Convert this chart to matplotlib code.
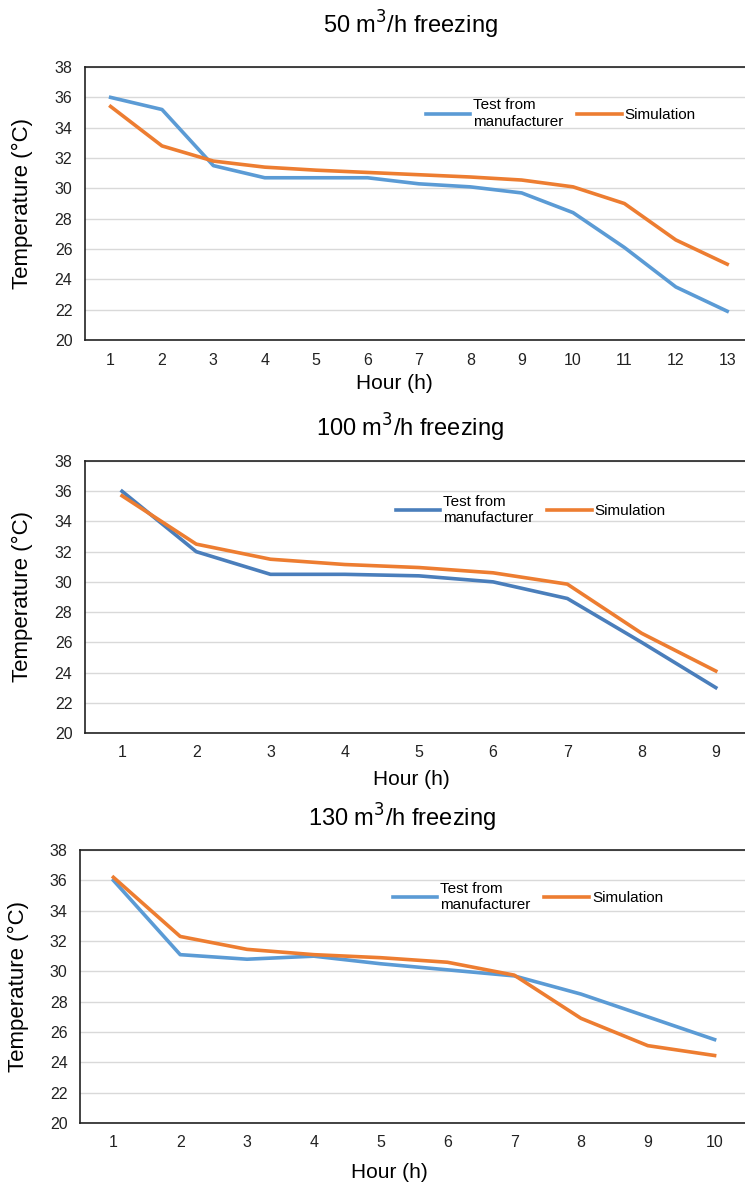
import matplotlib
matplotlib.use("Agg")
import matplotlib.pyplot as plt

# hours on the category axis
hours_50 = list(range(1, 14))
hours_100 = list(range(1, 10))
hours_130 = list(range(1, 11))

# 50 m3/h
test_50 = [36.0, 35.2, 31.5, 30.7, 30.7, 30.7, 30.3, 30.1, 29.7, 28.4, 26.1, 23.5, 21.9]
sim_50 = [35.4, 32.8, 31.8, 31.4, 31.2, 31.05, 30.9, 30.75, 30.55, 30.1, 29.0, 26.6, 25.0]

# 100 m3/h
test_100 = [36.0, 32.0, 30.5, 30.5, 30.4, 30.0, 28.9, 26.0, 23.0]
sim_100 = [35.7, 32.5, 31.5, 31.15, 30.95, 30.6, 29.85, 26.6, 24.1]

# 130 m3/h
test_130 = [36.0, 31.1, 30.8, 31.0, 30.5, 30.1, 29.7, 28.5, 27.0, 25.5]
sim_130 = [36.2, 32.3, 31.45, 31.1, 30.9, 30.6, 29.75, 26.9, 25.1, 24.45]

titles = ["50 m$^3$/h freezing", "100 m$^3$/h freezing", "130 m$^3$/h freezing"]
labels = ["Test from\nmanufacturer", "Simulation"]
yticks = list(range(20, 39, 2))

font = ["Liberation Sans", "DejaVu Sans"]

fig = plt.figure(figsize=(7.45, 11.91), dpi=100)

panels = [
    # x, y test, y sim, axes rect, blue colour, title (x, y px), xlabel coords, legend anchor
    (hours_50, test_50, sim_50, [0.114, 0.7145, 0.8966, 0.2292], "#5B9BD5", (410, 25), (0.464, -0.125), (0.49, 0.83)),
    (hours_100, test_100, sim_100, [0.114, 0.3846, 0.8966, 0.2283], "#4A7EBB", (410, 428), (0.488, -0.135), (0.445, 0.82)),
    (hours_130, test_130, sim_130, [0.1074, 0.0571, 0.8966, 0.2292], "#5B9BD5", (402, 818), (0.463, -0.147), (0.448, 0.828)),
]

for i, (x, yt, ys, rect, blue, tpos, xlc, leg) in enumerate(panels):
    ax = fig.add_axes(rect)
    ax.plot(x, yt, color=blue, lw=2.6, label=labels[0], solid_joinstyle="round")
    ax.plot(x, ys, color="#ED7D31", lw=2.6, label=labels[1], solid_joinstyle="round")
    ax.set_xlim(0.5, len(x) + 0.5)
    ax.set_ylim(20, 38)
    ax.set_xticks(x)
    ax.set_yticks(yticks)
    ax.grid(axis="y", color="#D9D9D9", lw=1)
    ax.set_axisbelow(True)
    for s in ax.spines.values():
        s.set_color("#222222")
        s.set_linewidth(1.2)
    ax.tick_params(length=0, labelsize=11.5, pad=9, colors="#222222")
    for t in ax.get_xticklabels() + ax.get_yticklabels():
        t.set_family(font)
    ax.set_ylabel("Temperature (°C)", family=font, fontsize=16)
    ax.yaxis.set_label_coords(-0.077, 0.5)
    ax.set_xlabel("Hour (h)", family=font, fontsize=15)
    ax.xaxis.set_label_coords(*xlc)
    ax.legend(loc="center left", bbox_to_anchor=leg, ncol=2, frameon=False,
              prop={"family": font, "size": 11}, handlelength=2.9,
              handletextpad=0.2, columnspacing=0.9, labelspacing=0.1)
    fig.text(tpos[0] / 745, 1 - tpos[1] / 1191, titles[i], ha="center", va="center",
             family=font, fontsize=17)

fig.savefig("out.png", dpi=100)
